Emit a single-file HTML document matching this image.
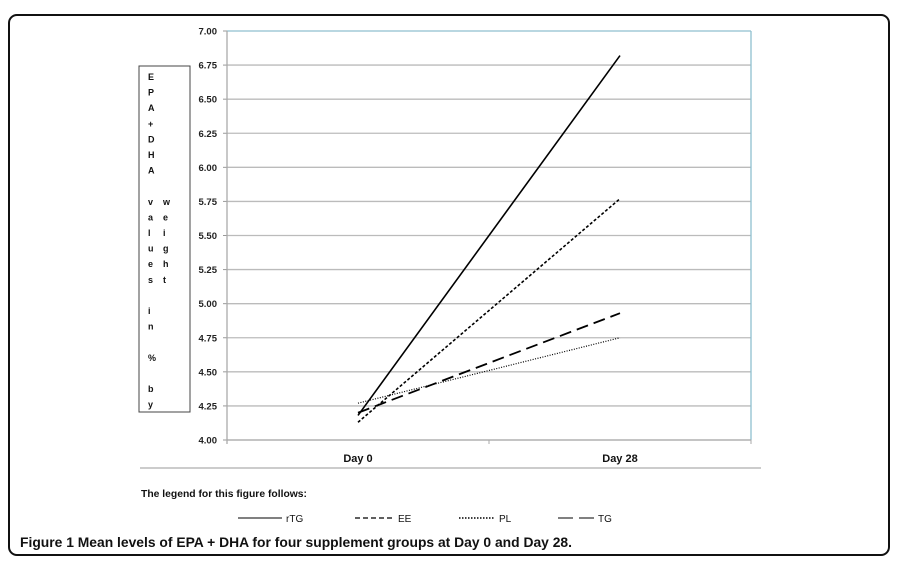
<!DOCTYPE html>
<html><head><meta charset="utf-8"><style>
body{margin:0;width:909px;height:563px;background:#fff;font-family:"Liberation Sans",sans-serif;position:relative;overflow:hidden}
.frame{position:absolute;left:8px;top:14px;width:878px;height:538px;border:2px solid #111;border-radius:9px}
svg{position:absolute;left:0;top:0}
</style></head><body>
<div class="frame"></div>
<svg id="chart" width="909" height="563">
  <rect x="139" y="66" width="51" height="346" fill="none" stroke="#444" stroke-width="1"/>
  <g id="ytitle" font-size="9" font-weight="bold" fill="#111"></g>
  <g id="grid"></g>
  <g id="series"></g>
  <line x1="140" y1="468" x2="761" y2="468" stroke="#999" stroke-width="1"/>
  <text x="141" y="497" font-size="10" fill="#111" font-weight="bold" textLength="166" lengthAdjust="spacingAndGlyphs">The legend for this figure follows:</text>
  <g font-size="10" fill="#111">
    <g><line x1="238" y1="518" x2="282" y2="518" stroke="#000" stroke-width="1"/><text x="286" y="522">rTG</text></g>
    <g><line x1="355" y1="518" x2="394" y2="518" stroke="#000" stroke-width="1.2" stroke-dasharray="5,3"/><text x="398" y="522">EE</text></g>
    <g><line x1="459" y1="518" x2="495" y2="518" stroke="#000" stroke-width="1.6" stroke-dasharray="1.5,1.5"/><text x="499" y="522">PL</text></g>
    <g><line x1="558" y1="518" x2="594" y2="518" stroke="#000" stroke-width="1" stroke-dasharray="15,6"/><text x="598" y="522">TG</text></g>
  </g>
  <text x="20" y="547" font-size="14" fill="#111" font-weight="bold" textLength="552" lengthAdjust="spacingAndGlyphs">Figure 1 Mean levels of EPA + DHA for four supplement groups at Day 0 and Day 28.</text>
</svg>
<script>
const categories=["Day 0","Day 28"];
const yTicks=[4.00,4.25,4.50,4.75,5.00,5.25,5.50,5.75,6.00,6.25,6.50,6.75,7.00];
const rTG=[4.18,6.82];
const EE=[4.13,5.77];
const PL=[4.27,4.75];
const TG=[4.20,4.93];
const NS="http://www.w3.org/2000/svg";
const L=227,R=751,T=31,B=440,yMin=4,yMax=7;
const y=v=>B-(v-yMin)/(yMax-yMin)*(B-T);
const band=(R-L)/categories.length;
const x=i=>L+band*(i+0.5);
function mk(tag,attrs,parent){const e=document.createElementNS(NS,tag);for(const k in attrs)e.setAttribute(k,attrs[k]);parent.appendChild(e);return e;}
const grid=document.getElementById('grid');
yTicks.forEach((t,i)=>{
  const ln=mk('line',{x1:L,x2:R,y1:y(t),y2:y(t),stroke:i===yTicks.length-1?'#8fbfcf':'#bbb','stroke-width':1.3},grid);
  
  
  const tk=mk('line',{x1:L-4,x2:L,y1:y(t),y2:y(t),stroke:'#999'},grid);
  
  
  const tx=mk('text',{x:L-10,y:y(t)+3.5,'text-anchor':'end','font-size':9.5,'font-weight':'bold',fill:'#222'},grid);
  tx.textContent=t.toFixed(2);
  
  
});
let ax=mk('line',{x1:L,x2:L,y1:T,y2:B+4,stroke:'#aaa','stroke-width':1.3},grid);


let rb=mk('line',{x1:R,x2:R,y1:T,y2:B,stroke:'#8fbfcf','stroke-width':1.3},grid);


let xa=mk('line',{x1:L,x2:R,y1:B,y2:B,stroke:'#aaa','stroke-width':1.3},grid);


for(let i=0;i<=categories.length;i++){const tk=mk('line',{x1:L+band*i,x2:L+band*i,y1:B,y2:B+4,stroke:'#aaa'},grid);

}
categories.forEach((c,i)=>{const tx=mk('text',{x:x(i),y:B+22,'text-anchor':'middle','font-size':11,'font-weight':'bold',fill:'#111'},grid);tx.textContent=c;

});
const ser=document.getElementById('series');
[[rTG,'none',1.6,'series-rtg'],[EE,'3,2',1.6,'series-ee'],[PL,'1,1.5',1.2,'series-pl'],[TG,'12,6',1.8,'series-tg']].forEach(([d,da,w,n])=>{
  const p=mk('polyline',{points:d.map((v,i)=>x(i)+','+y(v)).join(' '),fill:'none',stroke:'#000','stroke-width':w,'stroke-dasharray':da},ser);
  
  
});
const yt=document.getElementById('ytitle');
const col1=["E","P","A","+","D","H","A","","v","a","l","u","e","s","","i","n","","%","","b","y"];
const col2=["w","e","i","g","h","t"];
col1.forEach((c,i)=>{if(!c)return;const t=mk('text',{x:148,y:80+i*15.6},yt);t.textContent=c;});
col2.forEach((c,i)=>{const t=mk('text',{x:163,y:80+(8+i)*15.6},yt);t.textContent=c;});
</script>
</body></html>
